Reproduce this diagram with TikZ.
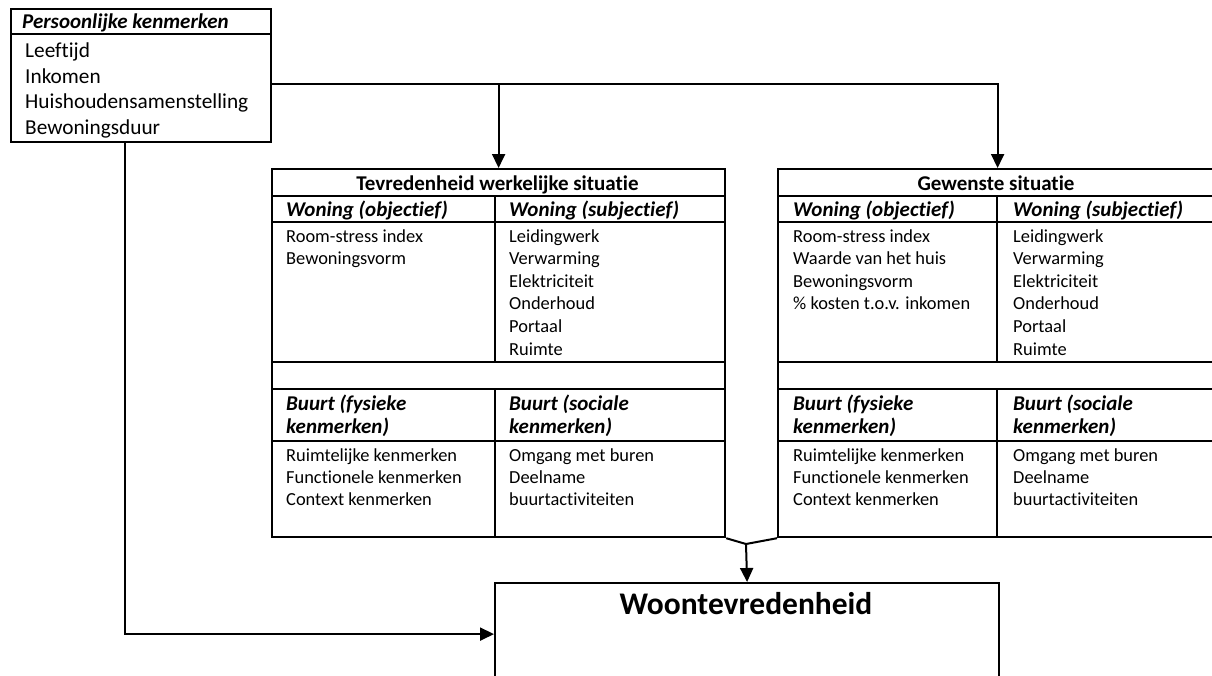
\documentclass[tikz,border=0pt]{standalone}
\usepackage{fontspec}
\setmainfont[Ligatures=NoCommon]{Carlito}
\usetikzlibrary{arrows.meta}
\begin{document}
\begin{tikzpicture}[x=1pt,y=-1pt,
  frame/.style={draw, line width=2.2pt, inner sep=0pt, anchor=north west},
  rule/.style={line width=2.2pt},
  conn/.style={line width=2pt},
  arr/.style={conn, -{Triangle[length=14pt,width=13pt]}},
  item/.style={anchor=base west, inner sep=0pt, font=\fontsize{18.4}{22}\selectfont},
  bigitem/.style={anchor=base west, inner sep=0pt, font=\fontsize{21.3}{25}\selectfont},
  colhead/.style={anchor=base west, inner sep=0pt, font=\fontsize{21}{25}\selectfont\bfseries\itshape},
  title/.style={anchor=base, inner sep=0pt, font=\fontsize{21}{25}\selectfont\bfseries}]

\useasboundingbox (0,0) rectangle (1212,675);
\clip (0,0) rectangle (1212,675);

% personal characteristics
\node[frame, minimum width=260pt, minimum height=133pt] (pers) at (10,8) {};
\draw[rule] (10,34) -- (270,34);
\node[colhead] (persh) at (22,28) {Persoonlijke kenmerken};
\node[bigitem] (p1) at (25,57.5) {Leeftijd};
\node[bigitem] (p2) at (25,83) {Inkomen};
\node[bigitem] (p3) at (25,108.5) {Huishoudensamenstelling};
\node[bigitem] (p4) at (25,134) {Bewoningsduur};

% satisfaction with the actual situation
\node[frame, minimum width=453pt, minimum height=368pt] (real) at (271,168) {};
\foreach \yy in {196,222,362,389,441} \draw[rule] (271,\yy) -- (724,\yy);
\draw[rule] (495,196) -- (495,362);
\draw[rule] (495,389) -- (495,536);
\node[title] (realt) at (497.5,190) {Tevredenheid werkelijke situatie};
\node[colhead] (rwo) at (286,216) {Woning (objectief)};
\node[colhead] (rws) at (509,216) {Woning (subjectief)};
\node[item] (r1) at (286,242) {Room-stress index};
\node[item] (r2) at (286,264.6) {Bewoningsvorm};
\node[item] (r3) at (509,242) {Leidingwerk};
\node[item] (r4) at (509,264.6) {Verwarming};
\node[item] (r5) at (509,287.2) {Elektriciteit};
\node[item] (r6) at (509,309.8) {Onderhoud};
\node[item] (r7) at (509,332.4) {Portaal};
\node[item] (r8) at (509,355) {Ruimte};
\node[colhead] (rbf1) at (286,410) {Buurt (fysieke};
\node[colhead] (rbf2) at (286,433) {kenmerken)};
\node[colhead] (rbs1) at (509,410) {Buurt (sociale};
\node[colhead] (rbs2) at (509,433) {kenmerken)};
\node[item] (r9) at (286,461) {Ruimtelijke kenmerken};
\node[item] (r10) at (286,483) {Functionele kenmerken};
\node[item] (r11) at (286,505) {Context kenmerken};
\node[item] (r12) at (509,461) {Omgang met buren};
\node[item] (r13) at (509,483) {Deelname};
\node[item] (r14) at (509,505) {buurtactiviteiten};

% desired situation
\node[frame, minimum width=439pt, minimum height=368pt] (wens) at (777,168) {};
\foreach \yy in {196,222,362,389,441} \draw[rule] (777,\yy) -- (1216,\yy);
\draw[rule] (997,196) -- (997,362);
\draw[rule] (997,389) -- (997,536);
\node[title] (censt) at (996,190) {Gewenste situatie};
\node[colhead] (wwo) at (793,216) {Woning (objectief)};
\node[colhead] (wws) at (1013,216) {Woning (subjectief)};
\node[item] (w1) at (793,242) {Room-stress index};
\node[item] (w2) at (793,264.6) {Waarde van het huis};
\node[item] (w3) at (793,287.2) {Bewoningsvorm};
\node[item] (w4) at (793,309.8) {\% kosten t.o.v. inkomen};
\node[item] (w5) at (1013,242) {Leidingwerk};
\node[item] (w6) at (1013,264.6) {Verwarming};
\node[item] (w7) at (1013,287.2) {Elektriciteit};
\node[item] (w8) at (1013,309.8) {Onderhoud};
\node[item] (w9) at (1013,332.4) {Portaal};
\node[item] (w10) at (1013,355) {Ruimte};
\node[colhead] (wbf1) at (793,410) {Buurt (fysieke};
\node[colhead] (wbf2) at (793,433) {kenmerken)};
\node[colhead] (wbs1) at (1013,410) {Buurt (sociale};
\node[colhead] (wbs2) at (1013,433) {kenmerken)};
\node[item] (w11) at (793,461) {Ruimtelijke kenmerken};
\node[item] (w12) at (793,483) {Functionele kenmerken};
\node[item] (w13) at (793,505) {Context kenmerken};
\node[item] (w14) at (1013,461) {Omgang met buren};
\node[item] (w15) at (1013,483) {Deelname};
\node[item] (w16) at (1013,505) {buurtactiviteiten};

% outcome
\node[frame, minimum width=504pt, minimum height=102pt] (woon) at (494,582) {};
\node[title, font=\fontsize{31.5}{36}\selectfont\bfseries] (woont) at (746,614) {Woontevredenheid};

% connectors
\coordinate (branch) at (270,84);
\coordinate (drop) at (125,141);
\coordinate (merge) at (746,544);
\draw[arr] (branch) -| (wens.north);
\draw[arr] (branch -| real.north) -- (real.north);
\draw[arr] (drop) |- (woon.west);
\draw[conn] (real.south east) -- (merge) -- (wens.south west);
\draw[arr] (merge) -- (woon.north);
\end{tikzpicture}
\end{document}
